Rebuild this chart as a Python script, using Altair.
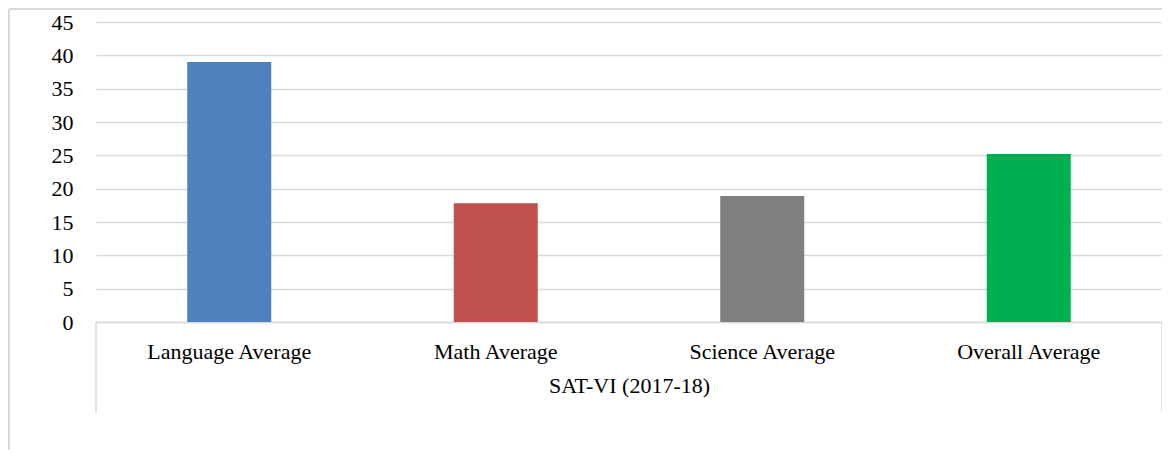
import altair as alt
import pandas as pd

categories = ["Language Average", "Math Average", "Science Average", "Overall Average"]
values = [39.0, 17.8, 18.9, 25.2]
colors = ["#4F81BD", "#C0504D", "#7F7F7F", "#00B050"]
group_label = "SAT-VI (2017-18)"
y_ticks = [0, 5, 10, 15, 20, 25, 30, 35, 40, 45]

df = pd.DataFrame({"cat": categories, "val": values, "color": colors})

FONT = "Liberation Serif"
W, H = 1066, 300

bars = alt.Chart(df).mark_bar(size=84).encode(
    x=alt.X("cat:N", sort=categories,
            axis=alt.Axis(title=group_label, labelAngle=0, ticks=False,
                          domainColor="#d9d9d9", domainWidth=1.5,
                          labelPadding=19, titlePadding=13,
                          labelFont=FONT, labelFontSize=22, labelColor="#000",
                          titleFont=FONT, titleFontSize=22, titleFontWeight="normal",
                          titleColor="#000")),
    y=alt.Y("val:Q", scale=alt.Scale(domain=[0, 45], nice=False),
            axis=alt.Axis(title=None, values=y_ticks, ticks=False, domain=False,
                          gridColor="#d9d9d9", gridWidth=1.5, labelPadding=23,
                          labelFont=FONT, labelFontSize=22, labelColor="#000")),
    color=alt.Color("color:N", scale=None, legend=None),
)

frame = alt.Chart(pd.DataFrame({"k": [0]}))
left_cat = frame.mark_rule(color="#d9d9d9", strokeWidth=1.5).encode(
    x=alt.value(0), y=alt.value(H), y2=alt.value(H + 90))
right_cat = frame.mark_rule(color="#d9d9d9", strokeWidth=1.5).encode(
    x=alt.value(W), y=alt.value(H), y2=alt.value(H + 90))
outer_left = frame.mark_rule(color="#d9d9d9", strokeWidth=2).encode(
    x=alt.value(-87), y=alt.value(-13), y2=alt.value(H + 130))
outer_top = frame.mark_rule(color="#d9d9d9", strokeWidth=2).encode(
    x=alt.value(-87), x2=alt.value(W), y=alt.value(-13))

chart = alt.layer(outer_left, outer_top, bars, left_cat, right_cat).properties(
    width=W, height=H,
    autosize=alt.AutoSizeParams(type="none"),
    padding={"left": 88, "top": 14, "right": 0, "bottom": 128},
).configure_view(stroke=None)

chart.save("out.html", embed_options={"renderer": "svg", "actions": False})
